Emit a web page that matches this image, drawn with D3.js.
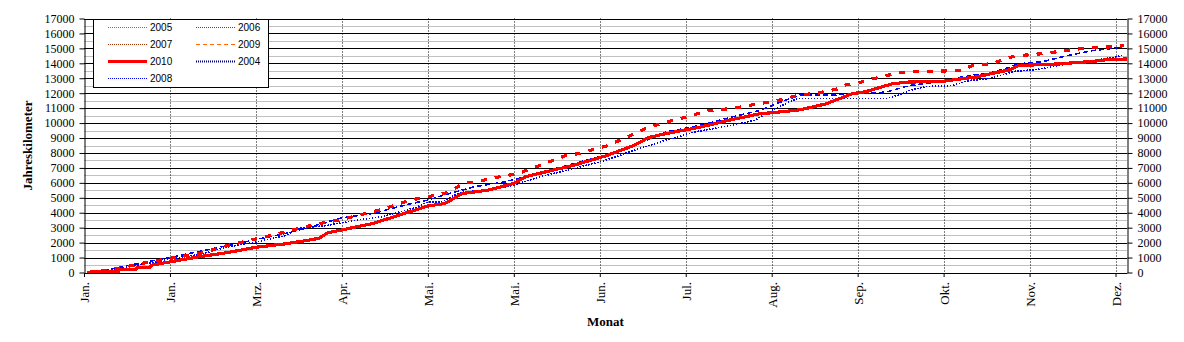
<!DOCTYPE html>
<html><head><meta charset="utf-8">
<script src="https://cdn.jsdelivr.net/npm/d3@7"></script>
<style>
html,body{margin:0;padding:0;background:#fff;}
svg{display:block;}
</style></head>
<body>
<svg id="chart" width="1184" height="342"></svg>
<script>
// ---- data (day of year, cumulative km) ----
const xTickDays = [0,30,60,90,120,150,180,210,240,270,300,330,360];
const xTickLabels = ["Jan.","Jan.","Mrz.","Apr.","Mai.","Mai.","Jun.","Jul.","Aug.","Sep.","Okt.","Nov.","Dez."];
const yTicks = [0,1000,2000,3000,4000,5000,6000,7000,8000,9000,10000,11000,12000,13000,14000,15000,16000,17000];

const s2010 = [[2,70],[12,70],[12.5,200],[18,200],[18.5,310],[23,310],[23.5,490],[30,710],[40,1050],[50,1330],[60,1690],[70,1910],[78,2150],[82,2290],[85,2650],[90,2850],[95,3050],[101,3290],[112,3960],[120,4450],[126,4620],[132,5290],[141,5510],[150,5960],[154,6400],[161,6730],[171,7180],[182,7800],[192,8510],[197,9030],[203,9290],[215,9730],[226,10230],[236,10630],[240,10690],[250,10890],[259,11290],[268,11960],[273,12110],[278,12400],[282,12620],[287,12740],[300,12800],[306,12960],[311,13070],[317,13330],[323,13560],[326,13850],[340,13960],[352,14130],[357,14250],[364,14290]];
const s2008 = [[1,0],[5,50],[10,200],[15,350],[20,550],[25,700],[30,900],[40,1200],[50,1700],[60,2050],[70,2450],[75,2950],[85,3150],[93,3450],[104,3730],[116,4360],[120,4730],[125,4730],[128,5070],[132,5400],[142,5510],[150,5850],[159,6400],[171,6960],[182,7510],[192,8180],[203,8850],[213,9400],[226,9850],[234,10180],[240,10850],[246,11400],[249,11650],[262,11650],[280,11650],[284,11850],[288,12180],[294,12450],[303,12510],[309,12850],[315,12960],[321,13250],[325,13470],[331,13560],[340,13850],[352,14180],[359,14400],[363,14560]];
const s2004 = [[1,0],[10,250],[20,650],[30,1000],[40,1400],[50,1800],[60,2200],[70,2600],[80,3100],[89,3620],[101,3960],[112,4510],[120,4850],[127,5250],[136,5730],[147,6070],[159,6670],[171,7290],[182,7850],[192,8510],[203,9400],[215,9850],[226,10400],[236,10850],[243,11400],[250,11890],[262,11890],[271,12000],[280,12070],[288,12510],[300,12800],[306,13070],[317,13400],[323,13730],[326,13960],[335,14130],[343,14510],[352,14850],[359,15000],[363,15130]];
const s2009 = [[1,0],[10,200],[20,600],[30,950],[40,1250],[50,1800],[60,2250],[70,2700],[80,3200],[89,3510],[101,4070],[107,4400],[114,4850],[123,5180],[126,5300],[133,6000],[137,6070],[146,6450],[150,6560],[153,6730],[160,7230],[169,7890],[173,7950],[178,8250],[182,8450],[187,8850],[192,9290],[197,9730],[203,10050],[210,10400],[217,10800],[227,11000],[232,11180],[239,11400],[242,11510],[250,11890],[256,12000],[263,12290],[266,12560],[270,12670],[273,12850],[275,12960],[279,13110],[283,13330],[286,13400],[294,13470],[306,13510],[310,13850],[316,13960],[320,14180],[323,14400],[326,14510],[333,14620],[337,14690],[340,14800],[347,14960],[354,15070],[359,15110],[363,15180]];
const s2005 = [], s2006 = [], s2007 = [];

const legendNames = ["2005","2006","2007","2009","2010","2004","2008"];

// ---- layout ----
const svg = d3.select("#chart");
const L = 84, R = 1127, T = 18.5, B = 272.5;
const x = d3.scaleLinear().domain([0,364]).range([L,R]);
const y = d3.scaleLinear().domain([0,17000]).range([B,T]);
const serif = "'Liberation Serif','Times New Roman',serif";
const sans = "'Liberation Sans',Arial,sans-serif";

// minor grid (500)
const minor = d3.range(500,17000,1000);
svg.append("g").selectAll("line").data(minor).join("line")
  .attr("x1",L).attr("x2",R).attr("y1",d=>Math.round(y(d))+0.5).attr("y2",d=>Math.round(y(d))+0.5)
  .attr("stroke","#c0c0c0").attr("stroke-width",1);
// major grid
svg.append("g").selectAll("line").data(yTicks.slice(1)).join("line")
  .attr("x1",L).attr("x2",R).attr("y1",d=>Math.round(y(d))+0.5).attr("y2",d=>Math.round(y(d))+0.5)
  .attr("stroke","#000").attr("stroke-width",1);
// vertical dotted grid
svg.append("g").selectAll("line").data(xTickDays.slice(1)).join("line")
  .attr("x1",d=>Math.round(x(d))+0.5).attr("x2",d=>Math.round(x(d))+0.5).attr("y1",T).attr("y2",B)
  .attr("stroke","#000").attr("stroke-width",1).attr("stroke-dasharray","1,2");

// series
const line = d3.line().x(d=>x(d[0])).y(d=>y(d[1]));
const plotSeries = [
  {data:s2005, color:"#808000", w:1, dash:"1,2"},
  {data:s2006, color:"#008000", w:1, dash:"1,2"},
  {data:s2007, color:"#993300", w:1, dash:"1,2"},
  {data:s2008, color:"#0000ff", w:1.6, dash:"1.5,1.5"},
  {data:s2004, color:"#0000ff", w:1.6, dash:"5,3"},
  {data:s2010, color:"#ff0000", w:3.2, dash:null},
  {data:s2009, color:"#ff0000", w:3.2, dash:"6,8"}
];
svg.append("g").selectAll("path").data(plotSeries.filter(s=>s.data.length)).join("path")
  .attr("d",s=>line(s.data)).attr("fill","none")
  .attr("stroke",s=>s.color).attr("stroke-width",s=>s.w)
  .attr("stroke-dasharray",s=>s.dash).attr("shape-rendering","crispEdges");

// axes
const yl = d3.axisLeft(y).tickValues(yTicks).tickSize(5).tickSizeOuter(0).tickPadding(5).tickFormat(d3.format("d"));
const yr = d3.axisRight(y).tickValues(yTicks).tickSize(5).tickSizeOuter(0).tickPadding(5).tickFormat(d3.format("d"));
const xa = d3.axisBottom(x).tickValues(xTickDays).tickSize(4).tickSizeOuter(0).tickFormat((d,i)=>xTickLabels[i]);
function style(g){
  g.select(".domain").attr("stroke","#000");
  g.selectAll(".tick line").attr("stroke","#000");
  g.selectAll("text").attr("fill","#000").style("font-family",serif).style("font-size","12px");
}
svg.append("g").attr("transform",`translate(${L+0.5},0)`).call(yl).call(style);
svg.append("g").attr("transform",`translate(${R+0.5},0)`).call(yr).call(style);
const gx = svg.append("g").attr("transform",`translate(0,${B+0.5})`).call(xa).call(style);
gx.selectAll("text").attr("transform","rotate(-90)").attr("text-anchor","end")
  .attr("x",-9).attr("y",0).attr("dy","0.35em").style("font-size","13px");

// axis titles
svg.append("text").attr("transform",`translate(32,${(T+B)/2}) rotate(-90)`).attr("text-anchor","middle")
  .style("font-family",serif).style("font-size","13px").style("font-weight","bold").text("Jahreskilometer");
svg.append("text").attr("x",(L+R)/2).attr("y",326).attr("text-anchor","middle")
  .style("font-family",serif).style("font-size","13px").style("font-weight","bold").text("Monat");

// legend
const leg = svg.append("g");
leg.append("rect").attr("x",93.5).attr("y",19.5).attr("width",175).attr("height",68)
  .attr("fill","#fff").attr("stroke","#000");
const legStyles = {
  "2005":{c:"#808000",w:1,d:"1,1"},
  "2006":{c:"#008000",w:1,d:"1,1"},
  "2007":{c:"#993300",w:1,d:"1,1"},
  "2009":{c:"#ff6600",w:1,d:"4,3"},
  "2010":{c:"#ff0000",w:3,d:null},
  "2004":{c:"#000080",w:2,d:"1,1"},
  "2008":{c:"#0000ff",w:1,d:"1,1"}
};
legendNames.forEach((n,i)=>{
  const col = i%2, row = Math.floor(i/2);
  const lx = col ? 196 : 108, ty = 27.5 + row*17;
  const st = legStyles[n];
  leg.append("line").attr("x1",lx).attr("x2",lx+39).attr("y1",ty).attr("y2",ty)
    .attr("stroke",st.c).attr("stroke-width",st.w).attr("stroke-dasharray",st.d);
  leg.append("text").attr("x",lx+42).attr("y",ty).attr("dy","0.35em")
    .style("font-family",sans).style("font-size","10px").attr("fill","#000").text(n);
});
</script>
</body></html>
